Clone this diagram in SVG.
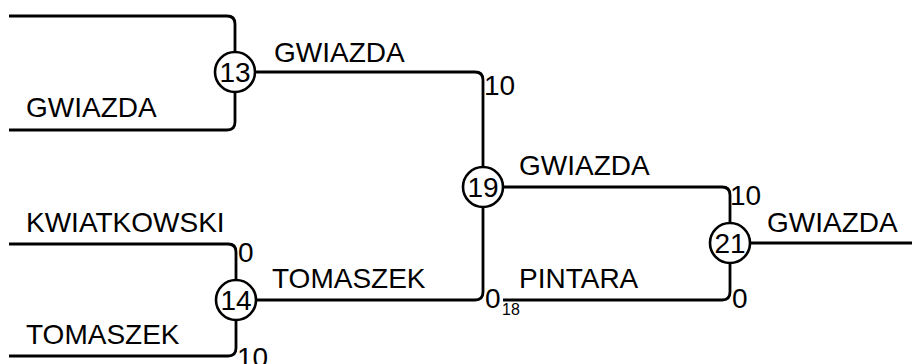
<svg xmlns="http://www.w3.org/2000/svg" width="912" height="364" viewBox="0 0 912 364">
<style>
.c{fill:none;stroke:#000;stroke-width:2.8}
.n circle{fill:#fff;stroke:#000;stroke-width:2.6}
text{font-family:"Liberation Sans",Arial,sans-serif;font-size:28px;fill:#000}
.num{text-anchor:middle}
.sub{font-size:16px}
</style>
<rect width="912" height="364" fill="#fff"/>
<g id="connectors">
<path class="c" d="M9 16H227Q235 16 235 24V52"/>
<path class="c" d="M9 130H227Q235 130 235 122V92"/>
<path class="c" d="M255 72H475Q483 72 483 80V167"/>
<path class="c" d="M9 244H228Q236 244 236 252V280"/>
<path class="c" d="M9 356H228Q236 356 236 348V320"/>
<path class="c" d="M256 300H475Q483 300 483 292V207"/>
<path class="c" d="M503 187H722Q730 187 730 195V223"/>
<path class="c" d="M503 300H722Q730 300 730 292V263"/>
<path class="c" d="M750 243H912"/>
</g>
<g id="labels">
<text x="26" y="117">GWIAZDA</text>
<text x="274" y="62">GWIAZDA</text>
<text x="484" y="95">10</text>
<text x="26" y="232">KWIATKOWSKI</text>
<text x="238" y="262">0</text>
<text x="26" y="344">TOMASZEK</text>
<text x="237" y="367">10</text>
<text x="272" y="288">TOMASZEK</text>
<text x="485" y="308">0</text>
<text class="sub" x="502" y="315">18</text>
<text x="519" y="175">GWIAZDA</text>
<text x="519" y="288">PINTARA</text>
<text x="730" y="205">10</text>
<text x="732" y="308">0</text>
<text x="767" y="232">GWIAZDA</text>
</g>
<g id="n13" class="n"><circle cx="235" cy="72" r="20"/><text class="num" x="235" y="82">13</text></g>
<g id="n14" class="n"><circle cx="236" cy="300" r="20"/><text class="num" x="236" y="310">14</text></g>
<g id="n19" class="n"><circle cx="483" cy="187" r="20"/><text class="num" x="483" y="197">19</text></g>
<g id="n21" class="n"><circle cx="730" cy="243" r="20"/><text class="num" x="730" y="253">21</text></g>
</svg>
